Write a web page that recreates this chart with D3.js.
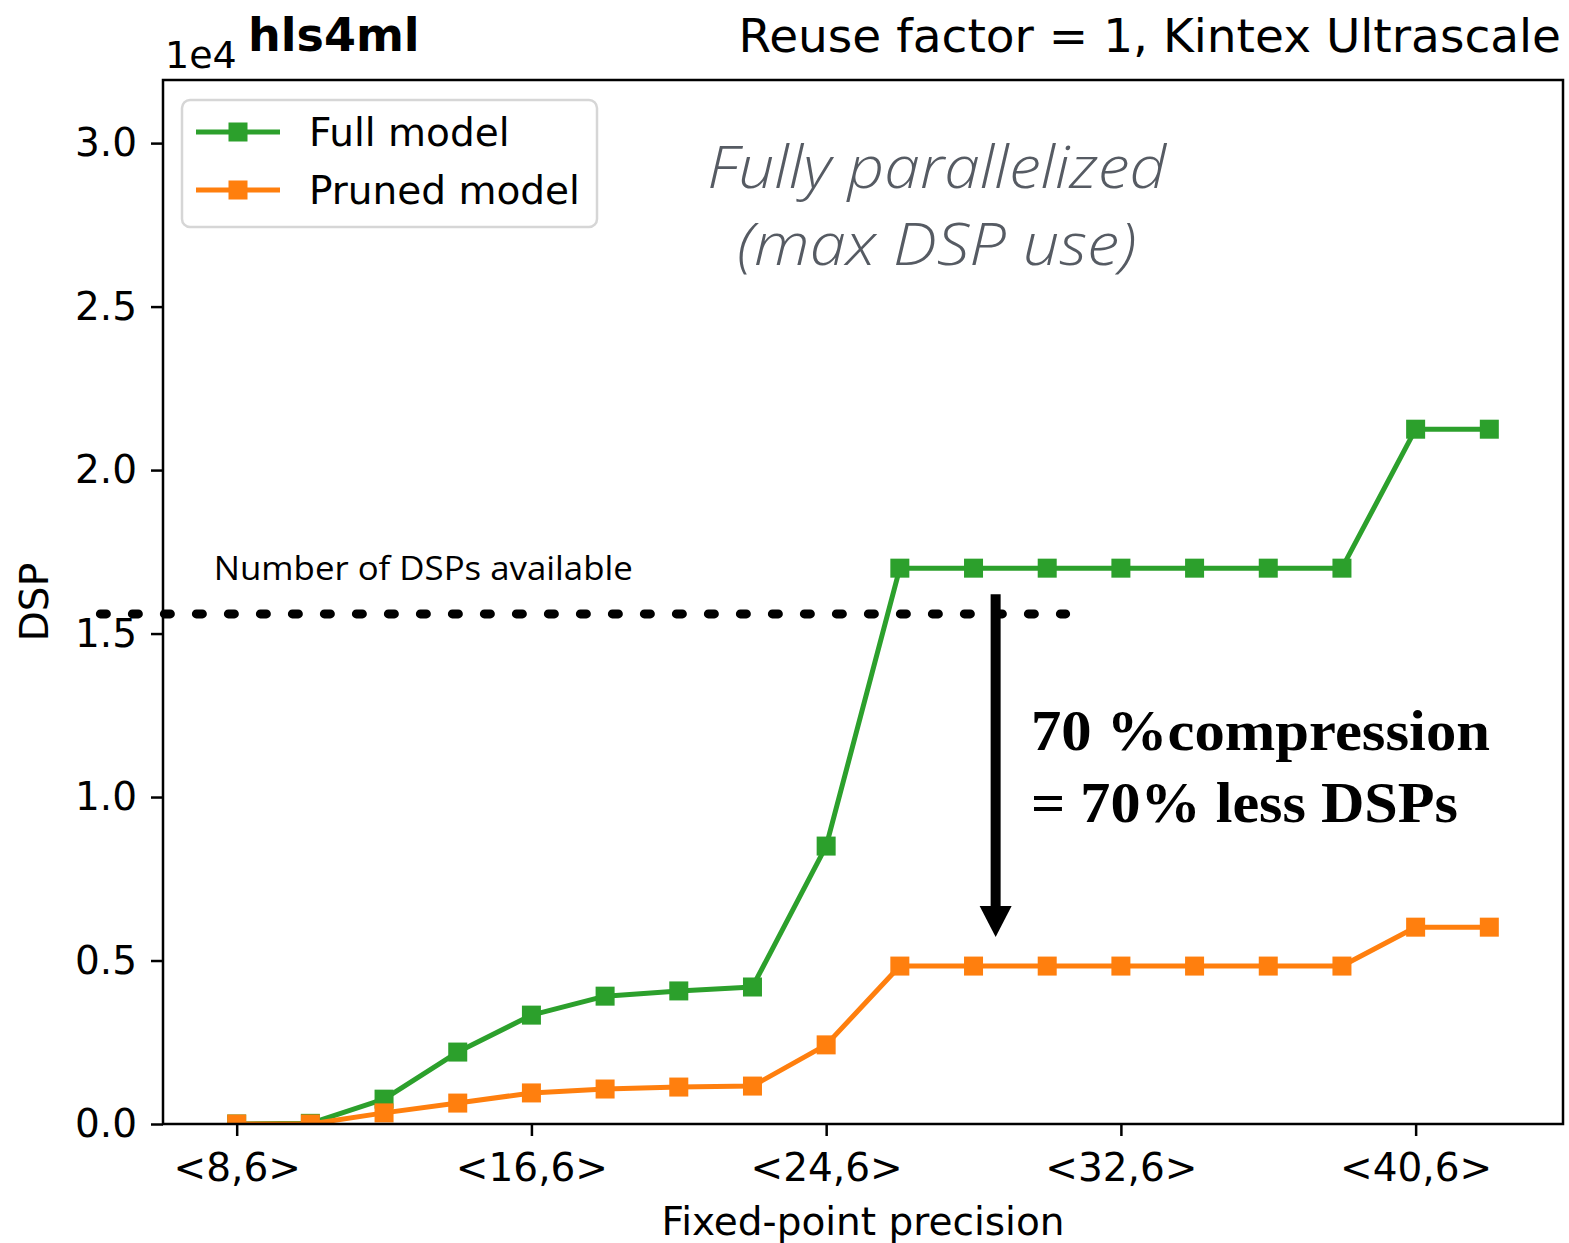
<!DOCTYPE html>
<html lang="en">
<head>
<meta charset="UTF-8">
<title>hls4ml DSP usage</title>
<script src="https://d3js.org/d3.v7.min.js"></script>
<style>
    body { margin: 0; background: #fff; }
    svg text { fill: #000; }
</style>
</head>
<body>
<svg id="chart" width="1569" height="1243" font-family="DejaVu Sans, sans-serif"></svg>
<script>
    // fixed-point total bits, all with 6 integer bits
    const precisionBits = [8, 10, 12, 14, 16, 18, 20, 22, 24, 26, 28, 30, 32, 34, 36, 38, 40, 42];
    const fullModel   = [0, 20, 760, 2200, 3330, 3910, 4070, 4190, 8500, 17000, 17000, 17000, 17000, 17000, 17000, 17000, 21250, 21250];
    const prunedModel = [0, 0, 340, 640, 950, 1070, 1130, 1160, 2420, 4830, 4830, 4830, 4830, 4830, 4830, 4830, 6020, 6020];

    const xTickBits   = [8, 16, 24, 32, 40];
    const xTickLabels = ["<8,6>", "<16,6>", "<24,6>", "<32,6>", "<40,6>"];
    const yTicks      = [0, 5000, 10000, 15000, 20000, 25000, 30000];

    const seriesNames  = ["Full model", "Pruned model"];
    const seriesColors = ["#2ca02c", "#ff7f0e"];

    // annotations (x in bits, y in DSPs)
    const dspAvailable = 15600;
    const dottedFrom = 4.3, dottedTo = 30.5;
    const arrowX = 28.6, arrowTop = 16200, arrowTip = 5720;

    const svg = d3.select("#chart");
    const plotLeft = 163, plotRight = 1563, plotTop = 80, plotBottom = 1124;

    const x = d3.scaleLinear().domain([6, 44]).range([plotLeft, plotRight]);
    const y = d3.scaleLinear().domain([0, 31930]).range([plotBottom, plotTop]);

    svg.append("defs").append("clipPath").attr("id", "plotclip")
        .append("rect").attr("x", plotLeft).attr("y", plotTop)
        .attr("width", plotRight - plotLeft).attr("height", plotBottom - plotTop);

    // ---- axes ----
    const xAxis = svg.append("g").attr("transform", `translate(0,${plotBottom})`)
        .call(d3.axisBottom(x).tickValues(xTickBits)
            .tickFormat((d, i) => xTickLabels[i]).tickSize(12).tickPadding(17));
    xAxis.select(".domain").remove();
    xAxis.selectAll("line").attr("stroke-width", 2.5);
    xAxis.selectAll("text").attr("font-size", 39).attr("font-family", "DejaVu Sans");

    const yAxis = svg.append("g").attr("transform", `translate(${plotLeft},0)`)
        .call(d3.axisLeft(y).tickValues(yTicks)
            .tickFormat(d => (d / 1e4).toFixed(1)).tickSize(12).tickPadding(14));
    yAxis.select(".domain").remove();
    yAxis.selectAll("line").attr("stroke-width", 2.5);
    yAxis.selectAll("text").attr("font-size", 39).attr("font-family", "DejaVu Sans");

    // ---- series ----
    const line = d3.line().x((d, i) => x(precisionBits[i])).y(d => y(d));
    const plot = svg.append("g").attr("clip-path", "url(#plotclip)");

    [fullModel, prunedModel].forEach(function (vals, k) {
        const g = plot.append("g");
        g.append("path").datum(vals)
            .attr("d", line)
            .attr("fill", "none")
            .attr("stroke", seriesColors[k])
            .attr("stroke-width", 5)
            .attr("stroke-linejoin", "round");
        g.selectAll("rect").data(vals).enter().append("rect")
            .attr("x", (d, i) => x(precisionBits[i]) - 9.5)
            .attr("y", d => y(d) - 9.5)
            .attr("width", 19).attr("height", 19)
            .attr("fill", seriesColors[k]);
    });

    // frame
    svg.append("rect").attr("x", plotLeft).attr("y", plotTop)
        .attr("width", plotRight - plotLeft).attr("height", plotBottom - plotTop)
        .attr("fill", "none").attr("stroke", "#000").attr("stroke-width", 2.5);

    // ---- labels ----
    svg.append("text").attr("x", (plotLeft + plotRight) / 2).attr("y", 1235)
        .attr("text-anchor", "middle").attr("font-size", 39).text("Fixed-point precision");
    svg.append("text").attr("transform", `translate(48,${(plotTop + plotBottom) / 2}) rotate(-90)`)
        .attr("text-anchor", "middle").attr("font-size", 39).text("DSP");
    svg.append("text").attr("x", 165).attr("y", 68).attr("font-size", 38).text("1e4");
    svg.append("text").attr("x", 248).attr("y", 51).attr("font-size", 46)
        .attr("font-weight", "bold").text("hls4ml");
    svg.append("text").attr("x", 1561).attr("y", 52).attr("font-size", 47)
        .attr("text-anchor", "end").text("Reuse factor = 1, Kintex Ultrascale");

    // ---- legend ----
    const legend = svg.append("g");
    legend.append("rect").attr("x", 182).attr("y", 100).attr("width", 415).attr("height", 127)
        .attr("rx", 8).attr("fill", "#fff").attr("fill-opacity", 0.8)
        .attr("stroke", "#d6d6d6").attr("stroke-width", 2.5);
    seriesNames.forEach(function (name, k) {
        const ly = 132 + k * 58;
        legend.append("line").attr("x1", 196).attr("x2", 280).attr("y1", ly).attr("y2", ly)
            .attr("stroke", seriesColors[k]).attr("stroke-width", 5);
        legend.append("rect").attr("x", 238 - 9.5).attr("y", ly - 9.5)
            .attr("width", 19).attr("height", 19).attr("fill", seriesColors[k]);
        legend.append("text").attr("x", 309).attr("y", ly + 14)
            .attr("font-size", 39).text(name);
    });

    // ---- annotations ----
    svg.append("line")
        .attr("x1", x(dottedFrom)).attr("x2", x(dottedTo))
        .attr("y1", y(dspAvailable)).attr("y2", y(dspAvailable))
        .attr("stroke", "#000").attr("stroke-width", 9)
        .attr("stroke-dasharray", "6 26").attr("stroke-linecap", "round");

    svg.append("text").attr("x", x(7.38)).attr("y", y(16636))
        .style("font-family", "'Open Sans', Lato, sans-serif").attr("font-size", 33)
        .attr("textLength", 419).attr("lengthAdjust", "spacingAndGlyphs")
        .text("Number of DSPs available");

    const ax = x(arrowX);
    svg.append("line").attr("x1", ax).attr("x2", ax)
        .attr("y1", y(arrowTop)).attr("y2", y(arrowTip) - 30)
        .attr("stroke", "#000").attr("stroke-width", 10);
    svg.append("path")
        .attr("d", `M${ax - 16},${y(arrowTip) - 31} L${ax + 16},${y(arrowTip) - 31} L${ax},${y(arrowTip)} Z`)
        .attr("fill", "#000");

    const gray = "#565b63";
    svg.append("text").attr("x", x(27.0)).attr("y", y(28624)).attr("text-anchor", "middle")
        .style("font-family", "'Open Sans', Lato, sans-serif").attr("font-style", "italic")
        .attr("font-weight", 300).attr("font-size", 58).style("fill", gray)
        .attr("textLength", 459).attr("lengthAdjust", "spacingAndGlyphs")
        .text("Fully parallelized");
    svg.append("text").attr("x", x(27.0)).attr("y", y(26269)).attr("text-anchor", "middle")
        .style("font-family", "'Open Sans', Lato, sans-serif").attr("font-style", "italic")
        .attr("font-weight", 300).attr("font-size", 58).style("fill", gray)
        .attr("textLength", 399).attr("lengthAdjust", "spacingAndGlyphs")
        .text("(max DSP use)");

    svg.append("text").attr("x", x(29.56)).attr("y", y(11437))
        .style("font-family", "'Liberation Serif', serif").attr("font-weight", "bold")
        .attr("font-size", 57).attr("textLength", 459).attr("lengthAdjust", "spacingAndGlyphs")
        .text("70 %compression");
    svg.append("text").attr("x", x(29.56)).attr("y", y(9235))
        .style("font-family", "'Liberation Serif', serif").attr("font-weight", "bold")
        .attr("font-size", 57).attr("textLength", 427).attr("lengthAdjust", "spacingAndGlyphs")
        .text("= 70% less DSPs");
</script>
</body>
</html>
